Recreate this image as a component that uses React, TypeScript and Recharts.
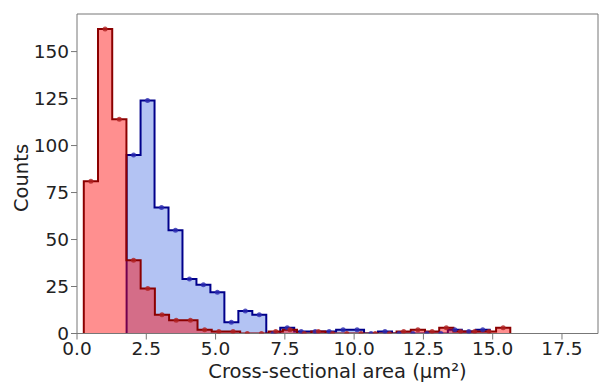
import { ComposedChart, Area, Line, XAxis, YAxis, ReferenceLine, Label } from "recharts"

// red histogram: 30 bins
const redStart = 0.245
const redWidth = 0.513
const redCounts = [81, 162, 114, 39, 24, 10, 7, 7, 2, 1, 1, 0, 0, 1, 2, 0, 1, 0, 0, 0, 0, 0, 1, 2, 1, 3, 1, 1, 1, 3]

// blue histogram: 26 bins
const blueStart = 1.79
const blueWidth = 0.504
const blueCounts = [95, 124, 67, 55, 29, 26, 22, 6, 12, 10, 0, 3, 1, 1, 1, 2, 2, 0, 1, 0, 0, 0, 0, 2, 1, 2]

const xTicks = [0, 2.5, 5, 7.5, 10, 12.5, 15, 17.5]
const yTicks = [0, 25, 50, 75, 100, 125, 150]

type Row = { x: number; [k: string]: number }

function stepRows(start: number, width: number, counts: number[], key: string): Row[] {
  const rows: Row[] = [{ x: start, [key]: 0 }]
  counts.forEach((c, i) => rows.push({ x: start + i * width, [key]: c }))
  rows.push({ x: start + counts.length * width, [key]: 0 })
  return rows
}

function dotRows(start: number, width: number, counts: number[], key: string): Row[] {
  return counts.map((c, i) => ({ x: start + (i + 0.5) * width, [key]: c }))
}

const data = [
  ...stepRows(blueStart, blueWidth, blueCounts, "blue"),
  ...stepRows(redStart, redWidth, redCounts, "red"),
  ...dotRows(blueStart, blueWidth, blueCounts, "blueDot"),
  ...dotRows(redStart, redWidth, redCounts, "redDot"),
].sort((a, b) => a.x - b.x)

const font = "'DejaVu Sans', sans-serif"
const axisColor = "#777"

export default function App() {
  return (
    <div style={{ position: "absolute", left: 0, top: 0, fontFamily: font }}>
      <ComposedChart width={599} height={383} data={data} margin={{ top: 14, right: 1, bottom: 0, left: 0 }}>
        <XAxis
          type="number"
          dataKey="x"
          domain={[0, 18.8]}
          ticks={xTicks}
          allowDataOverflow
          tickFormatter={(v: number) => v.toFixed(1)}
          height={49.5}
          tick={{ fontSize: 18.5, fill: "#222", fontFamily: font }}
          tickLine={{ stroke: axisColor }}
          axisLine={{ stroke: axisColor }}
        >
          <Label value="Cross-sectional area (µm²)" position="insideBottom" offset={5} fontSize={19.5} fill="#222" fontFamily={font} />
        </XAxis>
        <YAxis
          type="number"
          domain={[0, 170]}
          ticks={yTicks}
          allowDataOverflow
          width={77}
          tick={{ fontSize: 18.5, fill: "#222", fontFamily: font }}
          tickLine={{ stroke: axisColor }}
          axisLine={{ stroke: axisColor }}
        >
          <Label
            content={() => (
              <text
                x={21}
                y={178}
                transform="rotate(-90, 21, 178)"
                textAnchor="middle"
                dominantBaseline="central"
                fontSize={19.5}
                fill="#222"
                fontFamily={font}
              >
                Counts
              </text>
            )}
          />
        </YAxis>
        <ReferenceLine y={170} stroke={axisColor} />
        <ReferenceLine x={18.8} stroke={axisColor} />
        <Area
          type="stepAfter"
          dataKey="blue"
          connectNulls
          stroke="#00008b"
          strokeWidth={2}
          fill="#4169e1"
          fillOpacity={0.4}
          dot={false}
          activeDot={false}
          isAnimationActive={false}
        />
        <Area
          type="stepAfter"
          dataKey="red"
          connectNulls
          stroke="#8b0000"
          strokeWidth={2}
          fill="#ff0000"
          fillOpacity={0.44}
          dot={false}
          activeDot={false}
          isAnimationActive={false}
        />
        <Line
          dataKey="blueDot"
          stroke="none"
          dot={{ r: 2.5, fill: "#2a2ab0", stroke: "none", fillOpacity: 0.8 }}
          activeDot={false}
          isAnimationActive={false}
        />
        <Line
          dataKey="redDot"
          stroke="none"
          dot={{ r: 2.5, fill: "#b02020", stroke: "none", fillOpacity: 0.8 }}
          activeDot={false}
          isAnimationActive={false}
        />
      </ComposedChart>
    </div>
  )
}
